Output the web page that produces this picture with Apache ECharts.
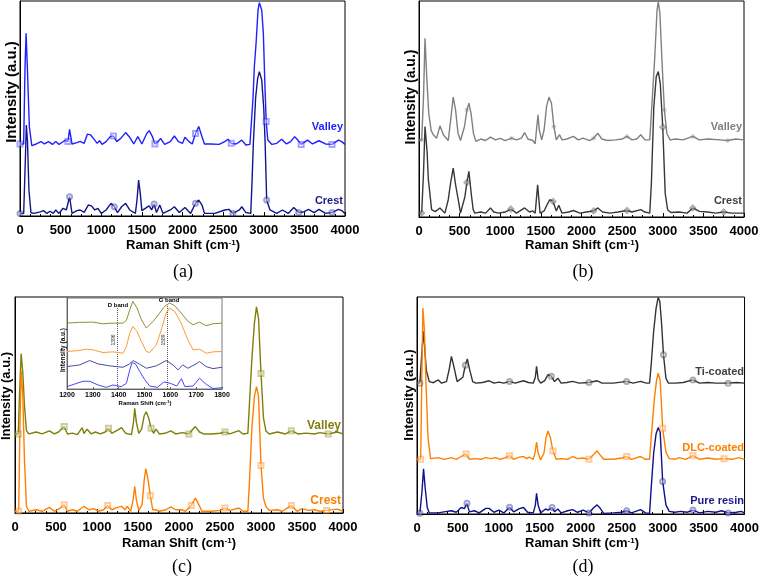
<!DOCTYPE html>
<html>
<head>
<meta charset="utf-8">
<script src="https://cdn.jsdelivr.net/npm/echarts@6/dist/echarts.min.js"></script>
<style>
  html, body { margin: 0; padding: 0; background: #fff; }
  #chart { width: 762px; height: 581px; }
</style>
</head>
<body>
<div id="chart"></div>
<script>
// tick labels
const xTicks = [0, 500, 1000, 1500, 2000, 2500, 3000, 3500, 4000];
const insetTicks = [1200, 1300, 1400, 1500, 1600, 1700, 1800];

// marker positions (cm-1), Origin style sparse symbols
const marksA = [20, 600, 1150, 1660, 2150, 2620, 3040, 3460, 3840];
const marksB = [30, 600, 1140, 1650, 2130, 2580, 3010, 3400, 3800];

// (a) intensity in arbitrary units, 0..100 of the panel height
const aValley = [[0,33.5],[45,33.5],[62,69.5],[75,85],[90,69.5],[115,41.6],[145,32.7],[200,33.5],[260,34.6],[300,33.5],[350,34.6],[400,33.3],[440,34.7],[480,33.3],[520,34.3],[560,35.3],[590,34.6],[610,40.3],[640,33.5],[700,34.1],[740,34.7],[790,33.8],[830,38.1],[870,37.7],[890,38.6],[920,35.3],[950,33.8],[980,35],[1010,33.3],[1060,34.6],[1110,36.9],[1150,37.2],[1190,34.6],[1240,36.1],[1300,38.8],[1350,36.6],[1400,33.5],[1450,36.9],[1500,33.5],[1560,38.4],[1590,39.7],[1630,36.9],[1660,33.5],[1700,34.6],[1730,36.1],[1780,33.3],[1850,34.6],[1900,37.2],[1950,34.6],[2000,33.8],[2030,36.6],[2080,34.6],[2120,33.5],[2160,38.4],[2200,41.6],[2240,36.9],[2270,33.5],[2350,33.5],[2450,33.3],[2520,34.6],[2560,35.7],[2600,33.8],[2660,33.5],[2730,35.3],[2780,33],[2830,33.3],[2850,33.5],[2868,55],[2885,70],[2905,80],[2930,96],[2946,99.2],[2975,95.8],[2995,85],[3015,60],[3030,44],[3050,35.3],[3100,33.3],[3160,33.8],[3220,35.7],[3280,33.5],[3330,34.6],[3380,36.9],[3420,35.3],[3460,33.3],[3540,35.3],[3600,33.5],[3680,35],[3760,33.5],[3840,33.3],[3920,35.3],[3960,34.6],[4000,33.3]];
const aCrest = [[0,1.2],[45,1.2],[65,25],[78,42.3],[92,35],[110,12],[135,1.5],[170,1.2],[250,1.9],[290,2.5],[330,1.2],[370,2.2],[410,1.2],[440,2.8],[480,1.2],[530,3.6],[570,2.8],[610,9],[640,1.2],[700,2.5],[740,2.8],[790,1.7],[840,5.1],[880,4.7],[920,2.8],[960,3.6],[1000,1.2],[1060,2.8],[1120,5.9],[1160,4.3],[1200,1.6],[1250,4.3],[1300,5.9],[1350,2.8],[1420,1.2],[1440,7.4],[1460,16.7],[1480,10.5],[1500,2.5],[1560,4],[1590,4.7],[1620,2.8],[1650,5.6],[1680,1.6],[1720,5.1],[1760,1.2],[1850,2.8],[1900,4.3],[1960,1.6],[2030,4],[2100,1.2],[2160,5.9],[2200,7.4],[2240,5.1],[2270,1.2],[2400,1.2],[2520,2.8],[2570,3.1],[2620,1.2],[2700,2.8],[2730,4.3],[2780,1.6],[2840,1.2],[2855,15],[2872,33.8],[2900,55],[2925,64],[2946,67.1],[2975,63.3],[3000,50],[3016,35.3],[3036,7.4],[3077,2.8],[3100,2],[3160,1.2],[3230,2.8],[3300,1.2],[3370,4],[3430,1.6],[3500,2],[3550,3.1],[3620,1.6],[3680,3.1],[3760,1.2],[3840,1.6],[3920,3.1],[3960,2.5],[4000,1.2]];

// (b)
const bValley = [[0,35.7],[33,35.7],[55,55],[74,82.7],[95,65],[120,48],[150,40],[176,38.1],[217,36.5],[258,42.2],[300,38.1],[360,35.4],[390,45],[421,55.5],[450,49.6],[480,38.8],[511,35.4],[560,41.9],[590,49.6],[614,52.7],[640,48.1],[670,38.8],[700,35],[760,36.1],[820,35.4],[880,37],[940,35.7],[1000,36.4],[1060,35.4],[1140,36.5],[1200,35.7],[1260,36.5],[1300,39.1],[1340,36.1],[1400,35.4],[1430,33.9],[1450,41.9],[1465,47.3],[1480,40.4],[1510,35.7],[1540,40.4],[1570,51.2],[1600,55.5],[1630,52.7],[1660,41.9],[1690,35.7],[1730,38.1],[1760,35.7],[1820,36.1],[1900,37.3],[1960,35.7],[2020,36.5],[2100,35.4],[2150,36.5],[2200,38.8],[2250,36.1],[2320,35.4],[2420,35.7],[2500,36.1],[2560,37.3],[2620,35.7],[2680,36.1],[2730,38.1],[2780,35.7],[2840,35.7],[2870,54.2],[2900,72.7],[2930,95.8],[2945,99.7],[2965,94.3],[2990,72.7],[3020,49.6],[3050,38.8],[3090,35.7],[3160,36.1],[3250,35.7],[3370,37.3],[3450,35.7],[3560,36.1],[3700,35.7],[3800,35.4],[3900,36.1],[4000,35.7]];
const bCrest = [[0,1.8],[33,1.8],[55,20],[74,41.9],[100,30],[115,17.4],[155,3.4],[200,2.5],[258,4.2],[319,1.8],[360,8],[390,16],[421,22.6],[450,15],[483,8],[511,1.8],[565,9.4],[590,16],[614,21.1],[645,10],[667,3.4],[687,1.8],[760,2.3],[820,1.8],[880,4.2],[920,2.3],[980,1.8],[1060,2.3],[1130,3.7],[1200,1.8],[1300,4.2],[1360,2.3],[1400,2.8],[1430,1.8],[1460,14.9],[1490,1.8],[1540,2.8],[1580,6],[1610,8],[1650,7.2],[1690,2.8],[1720,5.4],[1760,1.8],[1840,2.3],[1900,3],[1980,1.8],[2060,2.3],[2150,2.8],[2200,4.2],[2260,2.3],[2350,1.8],[2450,2.3],[2560,3],[2620,2.3],[2730,3.4],[2780,2.3],[2840,1.8],[2860,15.6],[2890,51],[2920,65],[2945,67.3],[2970,61.6],[3000,41.6],[3030,11],[3060,3.4],[3100,2.1],[3200,2.3],[3300,1.8],[3370,4.2],[3450,2.6],[3550,2.3],[3650,1.8],[3750,2.3],[3850,1.8],[4000,1.8]];

// (c)
const cValley = [[0,36.6],[40,36.6],[55,55],[75,73.8],[95,65],[115,50],[140,38],[170,36.6],[260,37.5],[330,36.6],[420,38],[480,36.6],[530,37.5],[600,40],[640,36.6],[700,37],[760,36.3],[820,39.5],[840,36.8],[880,38.8],[930,36.6],[980,37.5],[1040,36.6],[1100,37.5],[1140,39.2],[1180,36.9],[1250,38.4],[1300,39.5],[1350,36.9],[1420,36.3],[1445,42],[1460,48.5],[1480,42],[1510,36.9],[1545,39],[1575,45],[1600,46.9],[1630,44],[1660,39.2],[1690,36.9],[1720,38.8],[1760,36.6],[1830,36.9],[1900,38],[1960,36.6],[2040,37.2],[2120,36.6],[2160,38.4],[2200,40],[2250,37.5],[2300,36.6],[2400,36.6],[2500,36.9],[2560,37.5],[2620,36.6],[2730,38.1],[2780,36.6],[2840,36.9],[2865,55],[2890,72],[2920,88],[2945,95.4],[2970,90],[3000,64.6],[3030,44],[3060,38],[3100,36.6],[3200,37.5],[3300,36.6],[3370,38.1],[3450,36.6],[3550,37],[3650,36.6],[3720,37.2],[3820,36.6],[3930,37.5],[4000,36.6]];
const cCrest = [[0,0.8],[45,0.8],[60,40],[75,65.7],[95,55],[115,25],[140,3],[170,0.8],[260,1.5],[330,0.8],[420,2.6],[480,0.8],[540,2],[600,3.8],[640,0.8],[700,1.5],[760,0.8],[840,3.1],[900,1.5],[960,2],[1020,0.8],[1080,1.5],[1130,3.5],[1180,1.5],[1240,2.5],[1300,3.1],[1340,1.5],[1370,3.1],[1410,0.8],[1440,6],[1460,12.3],[1480,6],[1510,1.2],[1550,4],[1575,15],[1595,20.5],[1620,16],[1650,8],[1680,1.5],[1720,1.5],[1760,0.8],[1840,1.5],[1900,2.8],[1960,1.5],[2030,1.5],[2080,0.8],[2150,3.5],[2200,6.9],[2240,4],[2280,0.8],[2400,0.8],[2500,1.2],[2560,2.3],[2620,1.2],[2730,2.3],[2780,0.8],[2840,0.8],[2860,15],[2890,40],[2920,54],[2945,58.5],[2970,54],[3000,22],[3030,6.9],[3060,3],[3100,1.2],[3200,1.5],[3260,0.8],[3370,3.5],[3440,0.8],[3500,2],[3580,1.2],[3650,1.5],[3720,0.8],[3800,1.2],[3930,1.8],[4000,0.8]];

// (d)
const dTi = [[0,60.3],[35,60.3],[55,72],[78,84.2],[95,76],[115,66],[150,61],[200,60.5],[260,61.8],[300,60.3],[360,61],[395,67],[420,72.6],[450,68],[490,61],[510,60.5],[560,63],[590,68.5],[615,71.5],[640,67],[680,61],[720,60.3],[800,60.6],[880,61.4],[940,60.3],[1000,60.8],[1060,60.3],[1130,61.1],[1200,60.3],[1300,61.4],[1360,60.6],[1420,60.3],[1445,63],[1460,68],[1480,62],[1510,60.3],[1560,61.5],[1600,64.2],[1640,63.5],[1680,61],[1720,62.6],[1760,60.3],[1830,60.6],[1900,61.1],[1980,60.3],[2100,60.6],[2200,61.4],[2260,60.3],[2400,60.3],[2560,61.1],[2640,60.3],[2730,61.1],[2800,60.3],[2840,60.3],[2860,68.8],[2890,84.2],[2920,94.9],[2945,99.8],[2965,98],[2985,88.8],[3010,73.4],[3040,62.6],[3070,60.3],[3150,60.3],[3250,60.6],[3370,61.8],[3450,60.3],[3550,60.6],[3650,60.3],[3800,60.3],[3900,60.6],[4000,60.3]];
const dDLC = [[0,25.2],[45,25.2],[58,60],[72,94.9],[90,85],[110,60],[135,35],[165,25.5],[260,26],[330,25.2],[420,26],[480,25.2],[540,26.5],[600,27.7],[640,25.2],[700,25.5],[780,25.2],[840,26],[900,25.5],[960,26],[1020,25.2],[1080,26],[1130,26.9],[1180,25.2],[1250,26.2],[1300,26.5],[1340,25.5],[1370,26.2],[1420,25.2],[1440,28],[1460,33.1],[1480,28],[1510,24.9],[1550,28],[1575,35],[1600,38.3],[1630,35],[1660,29],[1700,25.2],[1760,25.5],[1840,25.2],[1900,26.5],[1960,25.5],[2030,25.8],[2100,25.2],[2160,27.5],[2200,29.1],[2240,27],[2280,25.2],[2400,25.2],[2500,25.8],[2560,26.5],[2620,25.2],[2730,26.5],[2790,25.2],[2840,25.2],[2860,35.2],[2900,53.5],[2925,61.5],[2945,64.9],[2970,61.5],[3000,39.5],[3040,28.5],[3080,25.5],[3150,25.2],[3200,26],[3280,25.2],[3370,26.9],[3450,25.2],[3550,25.8],[3650,25.2],[3750,25.5],[3850,25.2],[3930,26],[4000,25.2]];
const dPure = [[0,0.3],[35,0.3],[60,10],[80,20.8],[100,12],[125,3],[150,0.5],[260,0.5],[330,1],[420,1.5],[480,0.8],[540,3],[580,2.5],[610,4.9],[640,1],[700,1.5],[760,0.5],[840,2.6],[880,2.6],[940,0.8],[1000,1.8],[1060,0.5],[1130,3.1],[1180,1],[1250,2.5],[1300,3],[1350,0.8],[1420,0.5],[1445,4],[1460,9.5],[1480,4],[1510,0.5],[1570,2.3],[1600,1.8],[1650,3],[1680,1],[1720,2.3],[1760,0.5],[1840,1.5],[1900,2],[1960,0.8],[2030,1.8],[2100,0.5],[2160,3],[2200,4.2],[2240,2.5],[2280,0.3],[2400,0.5],[2500,0.8],[2560,1.5],[2620,0.5],[2730,2],[2790,0.5],[2840,0.3],[2860,12],[2890,28],[2920,37],[2945,39.8],[2970,37.7],[3000,15],[3040,4.2],[3080,1.2],[3150,0.8],[3220,1.2],[3300,0.8],[3370,1.8],[3450,0.5],[3550,1.2],[3650,0.8],[3720,1.5],[3800,0.5],[3900,0.8],[3960,1.2],[4000,0.5]];

// inset of (c): 1200-1800 cm-1 zoom
const iValleyC = [[1200,72.4],[1249,73.2],[1301,73.5],[1339,71.7],[1378,72.4],[1417,72.4],[1430,75.4],[1443,87.1],[1455,96.3],[1471,89],[1488,76.1],[1507,66.9],[1533,74.3],[1559,83.5],[1578,90.8],[1597,94.5],[1617,91.5],[1642,83.5],[1668,74.3],[1688,70.6],[1713,73.5],[1739,69.5],[1765,71.7],[1800,72.4]];
const iCrestC = [[1200,41.2],[1249,42.3],[1275,43.8],[1301,43],[1339,40.1],[1378,40.8],[1417,39.3],[1430,46.7],[1443,61.4],[1455,68.8],[1471,63.2],[1488,52.2],[1507,41.2],[1520,40.1],[1546,48.5],[1565,65.1],[1584,83.5],[1597,89],[1617,85.3],[1642,72.4],[1668,54],[1688,43],[1713,43.8],[1739,39.3],[1765,40.8],[1800,41.2]];
const iCrestA = [[1200,24.6],[1249,26.5],[1288,31.3],[1320,27.6],[1365,25.4],[1417,23.9],[1443,27.6],[1455,31.3],[1475,28.3],[1507,22.8],[1546,25.4],[1584,31.3],[1610,26.5],[1630,21],[1648,26.5],[1668,22.8],[1700,27.6],[1713,30.1],[1739,24.6],[1765,22.4],[1800,23.9]];
const iValleyA = [[1200,2.6],[1230,5.5],[1262,8.5],[1288,8.5],[1320,4.4],[1352,1.8],[1378,4.4],[1410,2.6],[1430,6.3],[1443,21],[1452,29],[1465,27.6],[1482,19.1],[1500,10.7],[1520,3.3],[1550,1.8],[1575,7.7],[1600,6.3],[1625,3.3],[1643,11.4],[1656,2.6],[1688,3.3],[1713,11.8],[1739,5.1],[1765,0.4],[1800,1.5]];
const bandPos = [1396, 1589];
const bandTop = [89, 94.5];

const SANS = '"Liberation Sans", Arial, sans-serif';
const SERIF = '"Liberation Serif", "Times New Roman", serif';
const STAR = 'path://M5,0L5,10M0,5L10,5M1.5,1.5L8.5,8.5M8.5,1.5L1.5,8.5';

const chart = echarts.init(document.getElementById('chart'));

// give the points nearest to the marker positions a symbol
const withMarks = (data, marks, sym, color) => {
    const idx = new Set(marks.map(mx => {
        let best = 0;
        data.forEach((p, i) => {
            if (Math.abs(p[0] - mx) < Math.abs(data[best][0] - mx)) best = i;
        });
        return best;
    }));
    return data.map((p, i) => {
        if (!idx.has(i)) return p;
        const st = sym === STAR
            ? { color: 'none', borderColor: color, borderWidth: 1, opacity: 0.45 }
            : { color: color, opacity: 0.4 };
        return { value: p, symbol: sym, symbolSize: 5, itemStyle: st };
    });
};

const grids = [
    { left: 20, top: 1, width: 325, height: 215 },
    { left: 419, top: 1, width: 325, height: 216 },
    { left: 15, top: 297, width: 328, height: 216 },
    { left: 417, top: 297, width: 329, height: 217 },
    { left: 67, top: 298, width: 155, height: 91 } // inset
].map((g, i) => Object.assign({
    show: true, borderColor: i === 4 ? '#777' : '#000', borderWidth: 1,
    backgroundColor: i === 4 ? '#fff' : 'transparent'
}, g));

const plain = v => String(v);

const xMain = gi => ({
    type: 'value', gridIndex: gi,
    min: xTicks[0], max: xTicks[xTicks.length - 1], interval: xTicks[1] - xTicks[0],
    axisLine: { lineStyle: { color: '#000', width: 1 } },
    axisTick: { inside: true, length: 4, lineStyle: { color: '#000' } },
    minorTick: { show: true, splitNumber: 4, length: 2, lineStyle: { color: '#000' } },
    axisLabel: { color: '#000', fontFamily: SANS, fontWeight: 'bold', fontSize: 13, margin: 8, formatter: plain },
    splitLine: { show: false }
});
const yHidden = (gi, c) => ({
    type: 'value', gridIndex: gi, min: 0, max: 100,
    axisLine: { show: true, lineStyle: { color: c || '#000' } },
    axisTick: { show: false }, axisLabel: { show: false }, splitLine: { show: false }
});

const traces = [
    { g: 0, data: aValley, color: '#1f1fff', sym: 'emptyRect', marks: marksA },
    { g: 0, data: aCrest, color: '#14148c', sym: 'emptyCircle', marks: marksA },
    { g: 1, data: bValley, color: '#808080', sym: STAR, marks: marksB },
    { g: 1, data: bCrest, color: '#383838', sym: 'emptyDiamond', marks: marksB },
    { g: 2, data: cValley, color: '#7f7f0a', sym: 'emptyRect', marks: marksB },
    { g: 2, data: cCrest, color: '#ff8000', sym: 'emptyRect', marks: marksB },
    { g: 3, data: dTi, color: '#333333', sym: 'emptyCircle', marks: marksB },
    { g: 3, data: dDLC, color: '#ff8000', sym: 'emptyRect', marks: marksB },
    { g: 3, data: dPure, color: '#10108c', sym: 'emptyCircle', marks: marksB }
];

const series = traces.map(t => ({
    type: 'line', xAxisIndex: t.g, yAxisIndex: t.g,
    data: withMarks(t.data, t.marks, t.sym, t.color),
    symbol: 'none', showSymbol: true,
    lineStyle: { color: t.color, width: 1.4 },
    itemStyle: { color: t.color },
    z: 3
}));

// inset traces
const insetTraces = [
    { data: iValleyC, color: '#8e9033' },
    { data: iCrestC, color: '#ff9933' },
    { data: iCrestA, color: '#4a4aa6' },
    { data: iValleyA, color: '#4646ff' }
];
insetTraces.forEach((t, i) => {
    series.push({
        type: 'line', xAxisIndex: 4, yAxisIndex: 4, data: t.data,
        symbol: 'none', lineStyle: { color: t.color, width: 1 }, z: 5,
        markLine: i === 0 ? {
            silent: true, symbol: 'none', label: { show: false },
            lineStyle: { type: 'dotted', color: '#555', width: 1 },
            data: bandPos.map((b, k) => [{ coord: [b, 0] }, { coord: [b, bandTop[k]] }])
        } : undefined
    });
});

const txt = (x, y, text, font, fill, opt) => Object.assign({
    type: 'text', x: x, y: y, z: 10,
    style: { text: text, font: font, fill: fill || '#000', align: 'center', verticalAlign: 'middle' }
}, opt || {});
const rightTxt = (x, y, text, fill, size) => ({
    type: 'text', x: x, y: y, z: 10,
    style: { text: text, font: 'bold ' + (size || 11) + 'px ' + SANS, fill: fill, align: 'right', verticalAlign: 'middle' }
});
const xName = (x, y, size, sup) => ({
    type: 'text', x: x, y: y, z: 10,
    style: {
        text: '{b|Raman Shift (cm}{s|-1}{b|)}',
        rich: {
            b: { font: 'bold ' + size + 'px ' + SANS, fill: '#000' },
            s: { font: 'bold ' + sup + 'px ' + SANS, fill: '#000', verticalAlign: 'top', lineHeight: sup }
        },
        align: 'center', verticalAlign: 'middle'
    }
});
const yName = (x, y, size) => txt(x, y, 'Intensity (a.u.)', 'bold ' + size + 'px ' + SANS, '#000', { rotation: Math.PI / 2 });

const graphic = [
    yName(12, 92, 15), yName(411, 97, 14), yName(6, 396, 13), yName(409, 395, 13.5),
    xName(183, 245, 13, 8), xName(582, 245, 13, 8), xName(179, 543, 13, 8), xName(582, 543, 13, 8),
    txt(183, 272, '(a)', '18px ' + SERIF), txt(583, 272, '(b)', '18px ' + SERIF),
    txt(182, 567, '(c)', '18px ' + SERIF), txt(583, 567, '(d)', '18px ' + SERIF),
    rightTxt(343, 127, 'Valley', '#2020ff'), rightTxt(343, 201, 'Crest', '#1a1a8a'),
    rightTxt(742, 127, 'Valley', '#808080'), rightTxt(742, 201, 'Crest', '#404040'),
    rightTxt(341, 426, 'Valley', '#7f7f0a', 12), rightTxt(341, 501, 'Crest', '#ff8000', 12),
    rightTxt(744, 372, 'Ti-coated', '#404040'), rightTxt(744, 448, 'DLC-coated', '#ff8000'),
    rightTxt(744, 501, 'Pure resin', '#1a1a8a'),
    // inset texts
    xName(145, 403, 6, 4),
    yName(63, 350, 6.5),
    txt(118, 305, 'D band', 'bold 6px ' + SANS),
    txt(169, 300, 'G band', 'bold 6px ' + SANS),
    txt(114, 340, String(bandPos[0]), '5px ' + SANS, '#333', { rotation: Math.PI / 2 }),
    txt(164, 340, String(bandPos[1]), '5px ' + SANS, '#333', { rotation: Math.PI / 2 })
];

const option = {
    animation: false,
    backgroundColor: '#fff',
    grid: grids,
    xAxis: [xMain(0), xMain(1), xMain(2), xMain(3), {
        type: 'value', gridIndex: 4,
        min: insetTicks[0], max: insetTicks[insetTicks.length - 1], interval: insetTicks[1] - insetTicks[0],
        axisLine: { lineStyle: { color: '#666' } },
        axisTick: { inside: true, length: 2, lineStyle: { color: '#666' } },
        axisLabel: { color: '#000', fontFamily: SANS, fontWeight: 'bold', fontSize: 7, margin: 3, formatter: plain },
        splitLine: { show: false }
    }],
    yAxis: [yHidden(0), yHidden(1), yHidden(2), yHidden(3), yHidden(4, '#666')],
    series: series,
    graphic: graphic
};

chart.setOption(option);
window.addEventListener('resize', () => chart.resize());
</script>
</body>
</html>
